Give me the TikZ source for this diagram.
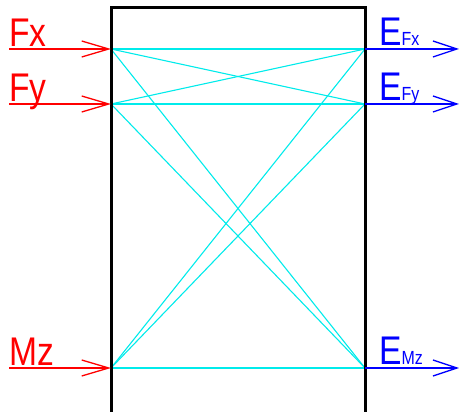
\documentclass[tikz,border=0pt]{standalone}
\usepackage{fontspec}
\usepackage{graphicx}
\setmainfont{Liberation Sans}
\usetikzlibrary{arrows.meta}
\definecolor{CargaRed}{RGB}{255,0,0}
\definecolor{EsforcoBlue}{RGB}{0,0,255}
\definecolor{LigaCyan}{RGB}{0,235,235}
\tikzset{
  carga/.style={draw=CargaRed, line width=1.5pt,
                -{Straight Barb[length=27pt,width=16pt,line width=1.3pt]}},
  esforco/.style={draw=EsforcoBlue, line width=1.5pt,
                -{Straight Barb[length=24pt,width=16pt,line width=1.3pt]}},
  liga/.style={draw=LigaCyan, line width=1.1pt},
  caixa/.style={draw=black, line width=3pt},
  rotuloC/.style={text=CargaRed, font=\fontsize{40}{40}\selectfont, inner sep=0pt, anchor=base west},
  rotuloE/.style={text=EsforcoBlue, font=\fontsize{40}{40}\selectfont, inner sep=0pt, anchor=base west},
}
\newcommand{\estreito}[1]{\scalebox{0.84}[1]{#1}}
\newcommand{\subE}[1]{{\fontsize{19}{19}\selectfont #1}}

\begin{document}
\begin{tikzpicture}[x=1pt, y=-1pt]
  \useasboundingbox (0,0) rectangle (459,412);
  \clip (0,0) rectangle (459,412);
  % Pontos de entrada e saida
  \coordinate (inFx) at (111,49);
  \coordinate (inFy) at (111,104);
  \coordinate (inMz) at (111,368);
  \coordinate (outFx) at (365,49);
  \coordinate (outFy) at (365,104);
  \coordinate (outMz) at (365,368);
  \coordinate (srcFx) at (9,49);
  \coordinate (srcFy) at (9,104);
  \coordinate (srcMz) at (9,368);
  \coordinate (dstFx) at (459,49);
  \coordinate (dstFy) at (459,104);
  \coordinate (dstMz) at (459,368);

  % Ligacoes
  \foreach \a in {Fx,Fy,Mz}
    \foreach \b in {Fx,Fy,Mz}
      \draw[liga] (in\a) -- (out\b);

  % Caixa
  \draw[caixa] (111,420) -- (111,8) -- (365,8) -- (365,420);

  % Cargas e esforcos
  \foreach \a in {Fx,Fy,Mz} {
    \draw[carga] (src\a) -- (in\a);
    \draw[esforco] (out\a) -- (dst\a);
  }

  % Rotulos
  \node[rotuloC] (lFx) at (9,47) {\estreito{Fx}};
  \node[rotuloC] (lFy) at (9,102) {\estreito{Fy}};
  \node[rotuloC] (lMz) at (9,366) {\estreito{Mz}};
  \node[rotuloE] (lEFx) at (379,46) {\estreito{E\subE{Fx}}};
  \node[rotuloE] (lEFy) at (379,101) {\estreito{E\subE{Fy}}};
  \node[rotuloE] (lEMz) at (379,365) {\estreito{E\subE{Mz}}};
\end{tikzpicture}
\end{document}
